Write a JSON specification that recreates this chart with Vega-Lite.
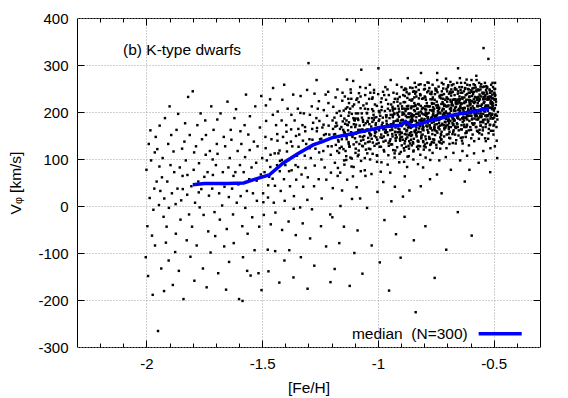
{
"$schema": "https://vega.github.io/schema/vega-lite/v6.json",
"autosize": "none",
"width": 463,
"height": 329,
"padding": {"left": 77, "top": 18, "right": 28, "bottom": 51},
"background": "white",
"config": {
  "view": {"stroke": "#000", "strokeWidth": 1},
  "axis": {"labelFont": "Liberation Sans", "titleFont": "Liberation Sans", "labelFontSize": 15, "titleFontSize": 15.5, "titleFontWeight": "normal", "labelColor": "#000", "titleColor": "#000", "tickColor": "#000", "tickWidth": 1}
},
"datasets": {
"med": [
{"feh":-1.80,"v":45},{"feh":-1.75,"v":48},{"feh":-1.70,"v":48},{"feh":-1.65,"v":48},{"feh":-1.58,"v":49},{"feh":-1.53,"v":57},{"feh":-1.47,"v":66},{"feh":-1.41,"v":91},{"feh":-1.35,"v":110},{"feh":-1.28,"v":130},{"feh":-1.24,"v":137},{"feh":-1.20,"v":145},{"feh":-1.15,"v":150},{"feh":-1.10,"v":155},{"feh":-1.035,"v":162},{"feh":-0.98,"v":168},{"feh":-0.94,"v":170},{"feh":-0.905,"v":172},{"feh":-0.88,"v":179},{"feh":-0.85,"v":170},{"feh":-0.81,"v":176},{"feh":-0.77,"v":183},{"feh":-0.70,"v":191},{"feh":-0.63,"v":198},{"feh":-0.58,"v":201},{"feh":-0.545,"v":206},{"feh":-0.52,"v":207}
],
"pts": [
{"feh":-2.000,"v":77},{"feh":-1.996,"v":-43},{"feh":-2.003,"v":-109},
{"feh":-1.990,"v":132},{"feh":-1.986,"v":17},{"feh":-1.993,"v":-149},
{"feh":-1.980,"v":97},{"feh":-1.976,"v":-63},{"feh":-1.983,"v":161},
{"feh":-1.970,"v":-8},{"feh":-1.966,"v":37},{"feh":-1.973,"v":-189},{"feh":-1.964,"v":114},
{"feh":-1.960,"v":147},{"feh":-1.956,"v":52},{"feh":-1.963,"v":-84},
{"feh":-1.950,"v":-266},{"feh":-1.946,"v":2},{"feh":-1.953,"v":121},{"feh":-1.944,"v":84},
{"feh":-1.940,"v":32},{"feh":-1.936,"v":-133},{"feh":-1.943,"v":171},
{"feh":-1.930,"v":102},{"feh":-1.926,"v":-23},{"feh":-1.933,"v":61},{"feh":-1.924,"v":-181},
{"feh":-1.920,"v":187},{"feh":-1.916,"v":-78},{"feh":-1.923,"v":16},
{"feh":-1.910,"v":52},{"feh":-1.906,"v":132},{"feh":-1.913,"v":-44},{"feh":-1.904,"v":-116},
{"feh":-1.900,"v":212},{"feh":-1.896,"v":87},{"feh":-1.903,"v":-4},
{"feh":-1.890,"v":27},{"feh":-1.886,"v":-168},{"feh":-1.893,"v":151},
{"feh":-1.880,"v":72},{"feh":-1.876,"v":-98},{"feh":-1.883,"v":116},{"feh":-1.874,"v":4},
{"feh":-1.870,"v":162},{"feh":-1.866,"v":37},{"feh":-1.873,"v":-59},
{"feh":-1.860,"v":-138},{"feh":-1.856,"v":82},{"feh":-1.863,"v":196},
{"feh":-1.850,"v":12},{"feh":-1.846,"v":122},{"feh":-1.853,"v":-29},{"feh":-1.844,"v":64},
{"feh":-1.840,"v":-198},{"feh":-1.836,"v":137},{"feh":-1.843,"v":36},
{"feh":-1.830,"v":97},{"feh":-1.826,"v":-73},{"feh":-1.833,"v":176},{"feh":-1.824,"v":24},
{"feh":-1.820,"v":232},{"feh":-1.816,"v":-18},{"feh":-1.823,"v":66},
{"feh":-1.810,"v":-108},{"feh":-1.806,"v":42},{"feh":-1.813,"v":151},
{"feh":-1.800,"v":244},{"feh":-1.796,"v":77},{"feh":-1.803,"v":-44},{"feh":-1.794,"v":114},
{"feh":-1.790,"v":7},{"feh":-1.786,"v":127},{"feh":-1.793,"v":-159},
{"feh":-1.780,"v":172},{"feh":-1.776,"v":52},{"feh":-1.783,"v":-84},{"feh":-1.774,"v":29},
{"feh":-1.770,"v":-3},{"feh":-1.766,"v":197},{"feh":-1.773,"v":91},
{"feh":-1.760,"v":142},{"feh":-1.756,"v":-133},{"feh":-1.763,"v":36},
{"feh":-1.750,"v":62},{"feh":-1.746,"v":182},{"feh":-1.753,"v":-19},{"feh":-1.744,"v":109},
{"feh":-1.740,"v":-173},{"feh":-1.736,"v":72},{"feh":-1.743,"v":151},
{"feh":-1.730,"v":22},{"feh":-1.726,"v":117},{"feh":-1.733,"v":-54},
{"feh":-1.720,"v":212},{"feh":-1.716,"v":37},{"feh":-1.723,"v":-99},{"feh":-1.714,"v":99},
{"feh":-1.710,"v":162},{"feh":-1.706,"v":-13},{"feh":-1.713,"v":66},
{"feh":-1.700,"v":87},{"feh":-1.696,"v":132},{"feh":-1.703,"v":-64},{"feh":-1.694,"v":184},
{"feh":-1.690,"v":-143},{"feh":-1.686,"v":27},{"feh":-1.693,"v":111},
{"feh":-1.680,"v":197},{"feh":-1.676,"v":47},{"feh":-1.683,"v":-29},
{"feh":-1.670,"v":72},{"feh":-1.666,"v":147},{"feh":-1.673,"v":1},{"feh":-1.664,"v":-86},
{"feh":-1.660,"v":127},{"feh":-1.656,"v":-178},{"feh":-1.663,"v":41},
{"feh":-1.650,"v":222},{"feh":-1.646,"v":82},{"feh":-1.653,"v":-49},{"feh":-1.644,"v":19},
{"feh":-1.640,"v":102},{"feh":-1.636,"v":162},{"feh":-1.643,"v":-119},
{"feh":-1.630,"v":37},{"feh":-1.626,"v":-18},{"feh":-1.633,"v":141},{"feh":-1.624,"v":64},
{"feh":-1.620,"v":187},{"feh":-1.616,"v":72},{"feh":-1.623,"v":-79},
{"feh":-1.610,"v":7},{"feh":-1.606,"v":117},{"feh":-1.613,"v":206},
{"feh":-1.600,"v":-198},{"feh":-1.596,"v":87},{"feh":-1.603,"v":46},{"feh":-1.594,"v":159},
{"feh":-1.590,"v":132},{"feh":-1.586,"v":-43},{"feh":-1.593,"v":21},
{"feh":-1.580,"v":72},{"feh":-1.576,"v":172},{"feh":-1.583,"v":-109},{"feh":-1.574,"v":104},{"feh":-1.585,"v":-202},
{"feh":-1.570,"v":237},{"feh":-1.566,"v":32},{"feh":-1.573,"v":-4},
{"feh":-1.560,"v":152},{"feh":-1.556,"v":57},{"feh":-1.563,"v":-59},{"feh":-1.554,"v":119},{"feh":-1.565,"v":-138},
{"feh":-1.550,"v":-148},{"feh":-1.546,"v":82},{"feh":-1.553,"v":191},
{"feh":-1.540,"v":27},{"feh":-1.536,"v":137},{"feh":-1.543,"v":-24},
{"feh":-1.530,"v":212},{"feh":-1.526,"v":92},{"feh":-1.533,"v":-94},{"feh":-1.524,"v":54},
{"feh":-1.520,"v":127},{"feh":-1.516,"v":-143},{"feh":-1.523,"v":11},
{"feh":-1.510,"v":167},{"feh":-1.506,"v":67},{"feh":-1.513,"v":-44},{"feh":-1.504,"v":234},
{"feh":-1.500,"v":102},{"feh":-1.496,"v":27},{"feh":-1.503,"v":-179},
{"feh":-1.490,"v":72},{"feh":-1.486,"v":147},{"feh":-1.493,"v":-19},{"feh":-1.484,"v":214},{"feh":-1.495,"v":8},
{"feh":-1.480,"v":97},{"feh":-1.476,"v":-93},{"feh":-1.483,"v":181},{"feh":-1.474,"v":44},{"feh":-1.485,"v":123},
{"feh":-1.470,"v":62},{"feh":-1.466,"v":227},{"feh":-1.473,"v":-139},{"feh":-1.464,"v":109},{"feh":-1.475,"v":18},
{"feh":-1.460,"v":142},{"feh":-1.456,"v":72},{"feh":-1.463,"v":-39},{"feh":-1.454,"v":194},{"feh":-1.465,"v":83},
{"feh":-1.450,"v":7},{"feh":-1.446,"v":112},{"feh":-1.453,"v":251},{"feh":-1.444,"v":-96},{"feh":-1.455,"v":58},
{"feh":-1.440,"v":172},{"feh":-1.436,"v":87},{"feh":-1.443,"v":-14},{"feh":-1.434,"v":139},{"feh":-1.445,"v":43},
{"feh":-1.430,"v":112},{"feh":-1.426,"v":-163},{"feh":-1.433,"v":201},{"feh":-1.424,"v":74},{"feh":-1.435,"v":153},
{"feh":-1.420,"v":32},{"feh":-1.416,"v":182},{"feh":-1.423,"v":96},{"feh":-1.414,"v":-51},{"feh":-1.425,"v":118},
{"feh":-1.410,"v":147},{"feh":-1.406,"v":57},{"feh":-1.413,"v":226},{"feh":-1.404,"v":-116},{"feh":-1.415,"v":98},
{"feh":-1.400,"v":87},{"feh":-1.396,"v":172},{"feh":-1.403,"v":11},{"feh":-1.394,"v":134},{"feh":-1.405,"v":258},
{"feh":-1.390,"v":207},{"feh":-1.386,"v":-33},{"feh":-1.393,"v":116},{"feh":-1.384,"v":74},{"feh":-1.395,"v":158},
{"feh":-1.380,"v":42},{"feh":-1.376,"v":137},{"feh":-1.383,"v":-94},{"feh":-1.374,"v":194},{"feh":-1.385,"v":98},
{"feh":-1.370,"v":127},{"feh":-1.366,"v":237},{"feh":-1.373,"v":76},{"feh":-1.364,"v":-6},{"feh":-1.375,"v":163},
{"feh":-1.360,"v":182},{"feh":-1.356,"v":87},{"feh":-1.363,"v":21},{"feh":-1.354,"v":149},{"feh":-1.365,"v":-152},
{"feh":-1.350,"v":107},{"feh":-1.346,"v":207},{"feh":-1.353,"v":56},{"feh":-1.344,"v":164},{"feh":-1.355,"v":-62},
{"feh":-1.340,"v":152},{"feh":-1.336,"v":-3},{"feh":-1.343,"v":126},{"feh":-1.334,"v":234},{"feh":-1.345,"v":83},
{"feh":-1.330,"v":67},{"feh":-1.326,"v":172},{"feh":-1.333,"v":-109},{"feh":-1.324,"v":139},{"feh":-1.335,"v":198},
{"feh":-1.320,"v":197},{"feh":-1.316,"v":107},{"feh":-1.323,"v":41},{"feh":-1.314,"v":159},{"feh":-1.325,"v":-37},
{"feh":-1.310,"v":132},{"feh":-1.306,"v":247},{"feh":-1.313,"v":81},{"feh":-1.304,"v":-176},{"feh":-1.315,"v":168},
{"feh":-1.300,"v":304},{"feh":-1.296,"v":142},{"feh":-1.303,"v":61},{"feh":-1.294,"v":194},{"feh":-1.305,"v":13},
{"feh":-1.290,"v":102},{"feh":-1.286,"v":212},{"feh":-1.293,"v":-69},{"feh":-1.284,"v":164},{"feh":-1.295,"v":123},
{"feh":-1.280,"v":177},{"feh":-1.276,"v":42},{"feh":-1.283,"v":141},{"feh":-1.274,"v":239},{"feh":-1.285,"v":-7},
{"feh":-1.270,"v":122},{"feh":-1.266,"v":187},{"feh":-1.273,"v":86},{"feh":-1.264,"v":159},{"feh":-1.275,"v":-127},
{"feh":-1.260,"v":207},{"feh":-1.256,"v":57},{"feh":-1.263,"v":166},{"feh":-1.254,"v":114},{"feh":-1.265,"v":268},
{"feh":-1.250,"v":142},{"feh":-1.246,"v":-43},{"feh":-1.253,"v":181},{"feh":-1.244,"v":99},{"feh":-1.255,"v":223},
{"feh":-1.240,"v":167},{"feh":-1.236,"v":117},{"feh":-1.243,"v":16},{"feh":-1.234,"v":204},{"feh":-1.245,"v":143},
{"feh":-1.230,"v":82},{"feh":-1.226,"v":237},{"feh":-1.233,"v":151},{"feh":-1.224,"v":-86},{"feh":-1.235,"v":173},
{"feh":-1.220,"v":192},{"feh":-1.216,"v":127},{"feh":-1.223,"v":56},{"feh":-1.214,"v":219},{"feh":-1.225,"v":153},
{"feh":-1.210,"v":152},{"feh":-1.206,"v":-18},{"feh":-1.213,"v":171},{"feh":-1.204,"v":109},{"feh":-1.215,"v":243},
{"feh":-1.200,"v":127},{"feh":-1.196,"v":182},{"feh":-1.203,"v":71},{"feh":-1.194,"v":164},{"feh":-1.205,"v":-162},
{"feh":-1.190,"v":152},{"feh":-1.186,"v":92},{"feh":-1.193,"v":211},{"feh":-1.184,"v":169},{"feh":-1.195,"v":38},{"feh":-1.188,"v":188},{"feh":-1.197,"v":-24},{"feh":-1.182,"v":130},
{"feh":-1.180,"v":177},{"feh":-1.176,"v":117},{"feh":-1.183,"v":231},{"feh":-1.174,"v":64},{"feh":-1.185,"v":153},{"feh":-1.178,"v":198},{"feh":-1.187,"v":-134},{"feh":-1.172,"v":140},
{"feh":-1.170,"v":137},{"feh":-1.166,"v":202},{"feh":-1.173,"v":81},{"feh":-1.164,"v":164},{"feh":-1.175,"v":248},{"feh":-1.168,"v":113},{"feh":-1.177,"v":171},{"feh":-1.162,"v":0},
{"feh":-1.160,"v":192},{"feh":-1.156,"v":142},{"feh":-1.163,"v":71},{"feh":-1.154,"v":224},{"feh":-1.165,"v":123},{"feh":-1.158,"v":168},{"feh":-1.167,"v":-79},{"feh":-1.152,"v":180},
{"feh":-1.150,"v":162},{"feh":-1.146,"v":97},{"feh":-1.153,"v":241},{"feh":-1.144,"v":154},{"feh":-1.155,"v":33},{"feh":-1.148,"v":203},{"feh":-1.157,"v":126},{"feh":-1.142,"v":175},
{"feh":-1.140,"v":117},{"feh":-1.136,"v":182},{"feh":-1.143,"v":156},{"feh":-1.134,"v":269},{"feh":-1.145,"v":88},{"feh":-1.138,"v":148},{"feh":-1.147,"v":-44},{"feh":-1.132,"v":210},
{"feh":-1.130,"v":172},{"feh":-1.126,"v":132},{"feh":-1.133,"v":56},{"feh":-1.124,"v":199},{"feh":-1.135,"v":148},{"feh":-1.128,"v":228},{"feh":-1.137,"v":106},{"feh":-1.122,"v":-170},
{"feh":-1.120,"v":207},{"feh":-1.116,"v":157},{"feh":-1.123,"v":126},{"feh":-1.114,"v":84},{"feh":-1.125,"v":178},{"feh":-1.118,"v":248},{"feh":-1.127,"v":136},{"feh":-1.112,"v":15},
{"feh":-1.110,"v":147},{"feh":-1.106,"v":187},{"feh":-1.113,"v":101},{"feh":-1.104,"v":174},{"feh":-1.115,"v":228},{"feh":-1.108,"v":63},{"feh":-1.117,"v":151},{"feh":-1.102,"v":-100},
{"feh":-1.100,"v":182},{"feh":-1.096,"v":122},{"feh":-1.103,"v":216},{"feh":-1.094,"v":154},{"feh":-1.105,"v":83},{"feh":-1.098,"v":168},{"feh":-1.107,"v":266},{"feh":-1.092,"v":40},
{"feh":-1.090,"v":157},{"feh":-1.086,"v":197},{"feh":-1.093,"v":136},{"feh":-1.084,"v":109},{"feh":-1.095,"v":173},{"feh":-1.088,"v":-52},{"feh":-1.097,"v":186},{"feh":-1.082,"v":240},
{"feh":-1.080,"v":132},{"feh":-1.076,"v":162},{"feh":-1.083,"v":221},{"feh":-1.074,"v":74},{"feh":-1.085,"v":183},{"feh":-1.078,"v":148},{"feh":-1.087,"v":106},{"feh":-1.072,"v":290},
{"feh":-1.070,"v":197},{"feh":-1.066,"v":147},{"feh":-1.073,"v":96},{"feh":-1.064,"v":179},{"feh":-1.075,"v":233},{"feh":-1.068,"v":128},{"feh":-1.077,"v":16},{"feh":-1.062,"v":160},
{"feh":-1.060,"v":172},{"feh":-1.056,"v":207},{"feh":-1.063,"v":141},{"feh":-1.054,"v":64},{"feh":-1.065,"v":183},{"feh":-1.058,"v":158},{"feh":-1.067,"v":-144},{"feh":-1.052,"v":120},
{"feh":-1.050,"v":162},{"feh":-1.046,"v":112},{"feh":-1.053,"v":251},{"feh":-1.044,"v":179},{"feh":-1.055,"v":133},{"feh":-1.048,"v":198},{"feh":-1.057,"v":76},{"feh":-1.042,"v":145},
{"feh":-1.040,"v":187},{"feh":-1.036,"v":137},{"feh":-1.043,"v":206},{"feh":-1.034,"v":99},{"feh":-1.045,"v":163},{"feh":-1.038,"v":228},{"feh":-1.047,"v":-4},{"feh":-1.032,"v":150},
{"feh":-1.030,"v":152},{"feh":-1.026,"v":187},{"feh":-1.033,"v":121},{"feh":-1.024,"v":179},{"feh":-1.035,"v":258},{"feh":-1.028,"v":68},{"feh":-1.037,"v":156},{"feh":-1.022,"v":135},
{"feh":-1.020,"v":202},{"feh":-1.016,"v":162},{"feh":-1.023,"v":111},{"feh":-1.014,"v":149},{"feh":-1.025,"v":228},{"feh":-1.018,"v":183},{"feh":-1.027,"v":-84},{"feh":-1.012,"v":155},
{"feh":-1.010,"v":172},{"feh":-1.006,"v":132},{"feh":-1.013,"v":216},{"feh":-1.004,"v":94},{"feh":-1.015,"v":188},{"feh":-1.008,"v":158},{"feh":-1.017,"v":241},{"feh":-1.002,"v":30},
{"feh":-1.000,"v":167},{"feh":-0.996,"v":202},{"feh":-1.003,"v":141},{"feh":-0.994,"v":184},{"feh":-1.005,"v":108},{"feh":-0.998,"v":293},{"feh":-1.007,"v":146},{"feh":-0.992,"v":-120},
{"feh":-0.990,"v":192},{"feh":-0.986,"v":152},{"feh":-0.993,"v":126},{"feh":-0.984,"v":229},{"feh":-0.995,"v":168},{"feh":-0.988,"v":73},{"feh":-0.997,"v":181},{"feh":-0.982,"v":145},
{"feh":-0.980,"v":177},{"feh":-0.976,"v":137},{"feh":-0.983,"v":211},{"feh":-0.974,"v":164},{"feh":-0.985,"v":93},{"feh":-0.978,"v":243},{"feh":-0.987,"v":126},{"feh":-0.972,"v":-30},
{"feh":-0.970,"v":202},{"feh":-0.966,"v":162},{"feh":-0.973,"v":116},{"feh":-0.964,"v":189},{"feh":-0.975,"v":148},{"feh":-0.968,"v":253},{"feh":-0.977,"v":51},{"feh":-0.962,"v":175},
{"feh":-0.960,"v":157},{"feh":-0.956,"v":217},{"feh":-0.963,"v":181},{"feh":-0.954,"v":134},{"feh":-0.965,"v":193},{"feh":-0.958,"v":88},{"feh":-0.967,"v":156},{"feh":-0.952,"v":-180},
{"feh":-0.950,"v":187},{"feh":-0.946,"v":142},{"feh":-0.953,"v":236},{"feh":-0.944,"v":174},{"feh":-0.955,"v":108},{"feh":-0.948,"v":203},{"feh":-0.957,"v":151},{"feh":-0.942,"v":10},
{"feh":-0.940,"v":167},{"feh":-0.936,"v":207},{"feh":-0.943,"v":131},{"feh":-0.934,"v":194},{"feh":-0.945,"v":268},{"feh":-0.938,"v":153},{"feh":-0.947,"v":71},{"feh":-0.932,"v":180},
{"feh":-0.930,"v":197},{"feh":-0.926,"v":157},{"feh":-0.933,"v":241},{"feh":-0.924,"v":144},{"feh":-0.935,"v":173},{"feh":-0.928,"v":103},{"feh":-0.937,"v":211},{"feh":-0.922,"v":-60},
{"feh":-0.920,"v":172},{"feh":-0.916,"v":222},{"feh":-0.923,"v":151},{"feh":-0.914,"v":194},{"feh":-0.925,"v":118},{"feh":-0.918,"v":258},{"feh":-0.927,"v":41},{"feh":-0.912,"v":165},
{"feh":-0.910,"v":207},{"feh":-0.906,"v":152},{"feh":-0.913,"v":181},{"feh":-0.904,"v":139},{"feh":-0.915,"v":228},{"feh":-0.908,"v":93},{"feh":-0.917,"v":171},{"feh":-0.902,"v":-110},
{"feh":-0.900,"v":182},{"feh":-0.896,"v":212},{"feh":-0.903,"v":146},{"feh":-0.894,"v":199},{"feh":-0.905,"v":158},{"feh":-0.898,"v":253},{"feh":-0.907,"v":111},{"feh":-0.892,"v":20},
{"feh":-0.890,"v":177},{"feh":-0.886,"v":207},{"feh":-0.893,"v":141},{"feh":-0.884,"v":234},{"feh":-0.895,"v":183},{"feh":-0.888,"v":123},{"feh":-0.897,"v":156},{"feh":-0.882,"v":250},{"feh":-0.891,"v":197},{"feh":-0.887,"v":94},{"feh":-0.894,"v":173},{"feh":-0.885,"v":-23},
{"feh":-0.880,"v":192},{"feh":-0.876,"v":152},{"feh":-0.883,"v":221},{"feh":-0.874,"v":174},{"feh":-0.885,"v":133},{"feh":-0.878,"v":248},{"feh":-0.887,"v":176},{"feh":-0.872,"v":105},{"feh":-0.881,"v":202},{"feh":-0.877,"v":159},{"feh":-0.884,"v":63},{"feh":-0.875,"v":212},
{"feh":-0.870,"v":167},{"feh":-0.866,"v":197},{"feh":-0.873,"v":146},{"feh":-0.864,"v":239},{"feh":-0.875,"v":178},{"feh":-0.868,"v":128},{"feh":-0.877,"v":206},{"feh":-0.862,"v":155},{"feh":-0.871,"v":272},{"feh":-0.867,"v":189},{"feh":-0.874,"v":83},{"feh":-0.865,"v":172},
{"feh":-0.860,"v":197},{"feh":-0.856,"v":157},{"feh":-0.863,"v":226},{"feh":-0.854,"v":179},{"feh":-0.865,"v":138},{"feh":-0.858,"v":208},{"feh":-0.867,"v":106},{"feh":-0.852,"v":185},{"feh":-0.861,"v":252},{"feh":-0.857,"v":149},{"feh":-0.864,"v":33},{"feh":-0.855,"v":212},
{"feh":-0.850,"v":182},{"feh":-0.846,"v":212},{"feh":-0.853,"v":151},{"feh":-0.844,"v":244},{"feh":-0.855,"v":168},{"feh":-0.848,"v":133},{"feh":-0.857,"v":191},{"feh":-0.842,"v":160},{"feh":-0.851,"v":227},{"feh":-0.847,"v":99},{"feh":-0.854,"v":188},{"feh":-0.845,"v":-73},
{"feh":-0.840,"v":202},{"feh":-0.836,"v":162},{"feh":-0.843,"v":231},{"feh":-0.834,"v":189},{"feh":-0.845,"v":143},{"feh":-0.838,"v":213},{"feh":-0.847,"v":116},{"feh":-0.832,"v":175},{"feh":-0.841,"v":262},{"feh":-0.837,"v":-226},{"feh":-0.844,"v":193},{"feh":-0.835,"v":152},
{"feh":-0.830,"v":177},{"feh":-0.826,"v":217},{"feh":-0.833,"v":156},{"feh":-0.824,"v":199},{"feh":-0.835,"v":243},{"feh":-0.828,"v":138},{"feh":-0.837,"v":181},{"feh":-0.822,"v":165},{"feh":-0.831,"v":207},{"feh":-0.827,"v":89},{"feh":-0.834,"v":233},{"feh":-0.825,"v":137},
{"feh":-0.820,"v":192},{"feh":-0.816,"v":157},{"feh":-0.823,"v":216},{"feh":-0.814,"v":179},{"feh":-0.825,"v":128},{"feh":-0.818,"v":238},{"feh":-0.827,"v":196},{"feh":-0.812,"v":150},{"feh":-0.821,"v":182},{"feh":-0.817,"v":109},{"feh":-0.824,"v":258},{"feh":-0.815,"v":42},
{"feh":-0.810,"v":207},{"feh":-0.806,"v":167},{"feh":-0.813,"v":146},{"feh":-0.804,"v":229},{"feh":-0.815,"v":183},{"feh":-0.808,"v":163},{"feh":-0.817,"v":236},{"feh":-0.802,"v":120},{"feh":-0.811,"v":197},{"feh":-0.807,"v":174},{"feh":-0.814,"v":283},{"feh":-0.805,"v":82},
{"feh":-0.800,"v":182},{"feh":-0.796,"v":212},{"feh":-0.803,"v":161},{"feh":-0.794,"v":199},{"feh":-0.805,"v":138},{"feh":-0.798,"v":233},{"feh":-0.807,"v":171},{"feh":-0.792,"v":205},{"feh":-0.801,"v":127},{"feh":-0.797,"v":249},{"feh":-0.804,"v":168},{"feh":-0.795,"v":-43},
{"feh":-0.790,"v":197},{"feh":-0.786,"v":162},{"feh":-0.793,"v":226},{"feh":-0.784,"v":184},{"feh":-0.795,"v":148},{"feh":-0.788,"v":213},{"feh":-0.797,"v":131},{"feh":-0.782,"v":245},{"feh":-0.791,"v":192},{"feh":-0.787,"v":169},{"feh":-0.794,"v":103},{"feh":-0.785,"v":212},
{"feh":-0.780,"v":212},{"feh":-0.776,"v":172},{"feh":-0.783,"v":156},{"feh":-0.774,"v":239},{"feh":-0.785,"v":188},{"feh":-0.778,"v":143},{"feh":-0.787,"v":196},{"feh":-0.772,"v":165},{"feh":-0.781,"v":262},{"feh":-0.777,"v":119},{"feh":-0.784,"v":188},{"feh":-0.775,"v":57},
{"feh":-0.770,"v":187},{"feh":-0.766,"v":217},{"feh":-0.773,"v":166},{"feh":-0.764,"v":204},{"feh":-0.775,"v":143},{"feh":-0.768,"v":243},{"feh":-0.777,"v":171},{"feh":-0.762,"v":210},{"feh":-0.771,"v":132},{"feh":-0.767,"v":189},{"feh":-0.774,"v":98},{"feh":-0.765,"v":227},
{"feh":-0.760,"v":202},{"feh":-0.756,"v":167},{"feh":-0.763,"v":231},{"feh":-0.754,"v":189},{"feh":-0.765,"v":153},{"feh":-0.758,"v":218},{"feh":-0.767,"v":136},{"feh":-0.752,"v":250},{"feh":-0.761,"v":197},{"feh":-0.757,"v":164},{"feh":-0.764,"v":113},{"feh":-0.755,"v":-153},
{"feh":-0.750,"v":192},{"feh":-0.746,"v":222},{"feh":-0.753,"v":161},{"feh":-0.744,"v":209},{"feh":-0.755,"v":173},{"feh":-0.748,"v":248},{"feh":-0.757,"v":141},{"feh":-0.742,"v":215},{"feh":-0.751,"v":182},{"feh":-0.747,"v":124},{"feh":-0.754,"v":238},{"feh":-0.745,"v":67},
{"feh":-0.740,"v":212},{"feh":-0.736,"v":177},{"feh":-0.743,"v":156},{"feh":-0.734,"v":234},{"feh":-0.745,"v":193},{"feh":-0.738,"v":168},{"feh":-0.747,"v":246},{"feh":-0.732,"v":135},{"feh":-0.741,"v":202},{"feh":-0.737,"v":184},{"feh":-0.744,"v":283},{"feh":-0.735,"v":97},
{"feh":-0.730,"v":197},{"feh":-0.726,"v":217},{"feh":-0.733,"v":171},{"feh":-0.724,"v":244},{"feh":-0.735,"v":183},{"feh":-0.728,"v":153},{"feh":-0.737,"v":206},{"feh":-0.722,"v":175},{"feh":-0.731,"v":122},{"feh":-0.727,"v":229},{"feh":-0.734,"v":163},{"feh":-0.725,"v":27},
{"feh":-0.720,"v":207},{"feh":-0.716,"v":172},{"feh":-0.723,"v":236},{"feh":-0.714,"v":194},{"feh":-0.725,"v":158},{"feh":-0.718,"v":228},{"feh":-0.727,"v":141},{"feh":-0.712,"v":215},{"feh":-0.721,"v":187},{"feh":-0.717,"v":259},{"feh":-0.724,"v":133},{"feh":-0.715,"v":197},
{"feh":-0.710,"v":192},{"feh":-0.706,"v":212},{"feh":-0.713,"v":166},{"feh":-0.704,"v":249},{"feh":-0.715,"v":198},{"feh":-0.708,"v":178},{"feh":-0.717,"v":136},{"feh":-0.702,"v":230},{"feh":-0.711,"v":187},{"feh":-0.707,"v":104},{"feh":-0.714,"v":213},{"feh":-0.705,"v":-93},
{"feh":-0.700,"v":212},{"feh":-0.696,"v":182},{"feh":-0.703,"v":231},{"feh":-0.694,"v":164},{"feh":-0.705,"v":198},{"feh":-0.698,"v":253},{"feh":-0.707,"v":171},{"feh":-0.692,"v":145},{"feh":-0.701,"v":222},{"feh":-0.697,"v":189},{"feh":-0.704,"v":123},{"feh":-0.695,"v":192},
{"feh":-0.690,"v":197},{"feh":-0.686,"v":222},{"feh":-0.693,"v":176},{"feh":-0.684,"v":209},{"feh":-0.695,"v":153},{"feh":-0.688,"v":243},{"feh":-0.697,"v":181},{"feh":-0.682,"v":215},{"feh":-0.691,"v":132},{"feh":-0.687,"v":264},{"feh":-0.694,"v":168},{"feh":-0.685,"v":77},
{"feh":-0.680,"v":217},{"feh":-0.676,"v":187},{"feh":-0.683,"v":241},{"feh":-0.674,"v":174},{"feh":-0.685,"v":203},{"feh":-0.678,"v":153},{"feh":-0.687,"v":226},{"feh":-0.672,"v":185},{"feh":-0.681,"v":257},{"feh":-0.677,"v":134},{"feh":-0.684,"v":203},{"feh":-0.675,"v":172},
{"feh":-0.670,"v":202},{"feh":-0.666,"v":227},{"feh":-0.673,"v":181},{"feh":-0.664,"v":219},{"feh":-0.675,"v":158},{"feh":-0.668,"v":248},{"feh":-0.677,"v":186},{"feh":-0.662,"v":140},{"feh":-0.671,"v":227},{"feh":-0.667,"v":209},{"feh":-0.674,"v":113},{"feh":-0.665,"v":167},
{"feh":-0.660,"v":222},{"feh":-0.656,"v":192},{"feh":-0.663,"v":166},{"feh":-0.654,"v":244},{"feh":-0.665,"v":203},{"feh":-0.658,"v":188},{"feh":-0.667,"v":251},{"feh":-0.652,"v":150},{"feh":-0.661,"v":217},{"feh":-0.657,"v":174},{"feh":-0.664,"v":133},{"feh":-0.655,"v":-13},
{"feh":-0.650,"v":207},{"feh":-0.646,"v":227},{"feh":-0.653,"v":186},{"feh":-0.644,"v":219},{"feh":-0.655,"v":168},{"feh":-0.648,"v":253},{"feh":-0.657,"v":191},{"feh":-0.642,"v":145},{"feh":-0.651,"v":227},{"feh":-0.647,"v":199},{"feh":-0.654,"v":293},{"feh":-0.645,"v":97},
{"feh":-0.640,"v":217},{"feh":-0.636,"v":187},{"feh":-0.643,"v":241},{"feh":-0.634,"v":179},{"feh":-0.645,"v":203},{"feh":-0.638,"v":163},{"feh":-0.647,"v":226},{"feh":-0.632,"v":195},{"feh":-0.641,"v":262},{"feh":-0.637,"v":139},{"feh":-0.644,"v":213},{"feh":-0.635,"v":117},
{"feh":-0.630,"v":202},{"feh":-0.626,"v":222},{"feh":-0.633,"v":186},{"feh":-0.624,"v":249},{"feh":-0.635,"v":208},{"feh":-0.628,"v":173},{"feh":-0.637,"v":231},{"feh":-0.622,"v":155},{"feh":-0.631,"v":197},{"feh":-0.627,"v":219},{"feh":-0.634,"v":133},{"feh":-0.625,"v":52},
{"feh":-0.620,"v":222},{"feh":-0.616,"v":192},{"feh":-0.623,"v":251},{"feh":-0.614,"v":184},{"feh":-0.625,"v":208},{"feh":-0.618,"v":168},{"feh":-0.627,"v":231},{"feh":-0.612,"v":200},{"feh":-0.621,"v":147},{"feh":-0.617,"v":269},{"feh":-0.624,"v":188},{"feh":-0.615,"v":107},
{"feh":-0.610,"v":207},{"feh":-0.606,"v":232},{"feh":-0.613,"v":191},{"feh":-0.604,"v":219},{"feh":-0.615,"v":173},{"feh":-0.608,"v":248},{"feh":-0.617,"v":156},{"feh":-0.602,"v":225},{"feh":-0.611,"v":202},{"feh":-0.607,"v":129},{"feh":-0.614,"v":258},{"feh":-0.605,"v":77},
{"feh":-0.600,"v":217},{"feh":-0.596,"v":192},{"feh":-0.603,"v":241},{"feh":-0.594,"v":184},{"feh":-0.605,"v":223},{"feh":-0.598,"v":208},{"feh":-0.607,"v":161},{"feh":-0.592,"v":250},{"feh":-0.601,"v":192},{"feh":-0.597,"v":144},{"feh":-0.604,"v":233},{"feh":-0.595,"v":-63},
{"feh":-0.590,"v":202},{"feh":-0.586,"v":227},{"feh":-0.593,"v":186},{"feh":-0.584,"v":219},{"feh":-0.595,"v":243},{"feh":-0.588,"v":173},{"feh":-0.597,"v":206},{"feh":-0.582,"v":195},{"feh":-0.591,"v":152},{"feh":-0.587,"v":259},{"feh":-0.594,"v":223},{"feh":-0.585,"v":112},
{"feh":-0.580,"v":222},{"feh":-0.576,"v":197},{"feh":-0.583,"v":176},{"feh":-0.574,"v":244},{"feh":-0.585,"v":208},{"feh":-0.578,"v":193},{"feh":-0.587,"v":251},{"feh":-0.572,"v":160},{"feh":-0.581,"v":232},{"feh":-0.577,"v":204},{"feh":-0.584,"v":138},{"feh":-0.575,"v":277},
{"feh":-0.570,"v":212},{"feh":-0.566,"v":232},{"feh":-0.573,"v":191},{"feh":-0.564,"v":224},{"feh":-0.575,"v":168},{"feh":-0.568,"v":248},{"feh":-0.577,"v":196},{"feh":-0.562,"v":155},{"feh":-0.571,"v":227},{"feh":-0.567,"v":184},{"feh":-0.574,"v":268},{"feh":-0.565,"v":92},
{"feh":-0.560,"v":227},{"feh":-0.556,"v":197},{"feh":-0.563,"v":246},{"feh":-0.554,"v":189},{"feh":-0.565,"v":213},{"feh":-0.558,"v":178},{"feh":-0.567,"v":231},{"feh":-0.552,"v":205},{"feh":-0.561,"v":162},{"feh":-0.557,"v":254},{"feh":-0.564,"v":143},{"feh":-0.555,"v":192},
{"feh":-0.550,"v":207},{"feh":-0.546,"v":227},{"feh":-0.553,"v":191},{"feh":-0.544,"v":336},{"feh":-0.555,"v":213},{"feh":-0.548,"v":253},{"feh":-0.557,"v":171},{"feh":-0.542,"v":220},{"feh":-0.551,"v":152},{"feh":-0.547,"v":239},{"feh":-0.554,"v":203},{"feh":-0.545,"v":117},
{"feh":-0.540,"v":222},{"feh":-0.536,"v":192},{"feh":-0.543,"v":241},{"feh":-0.534,"v":214},{"feh":-0.545,"v":178},{"feh":-0.538,"v":233},{"feh":-0.547,"v":161},{"feh":-0.532,"v":255},{"feh":-0.541,"v":202},{"feh":-0.537,"v":144},{"feh":-0.544,"v":228},{"feh":-0.535,"v":97},
{"feh":-0.530,"v":212},{"feh":-0.526,"v":232},{"feh":-0.533,"v":191},{"feh":-0.524,"v":229},{"feh":-0.535,"v":168},{"feh":-0.528,"v":253},{"feh":-0.537,"v":201},{"feh":-0.522,"v":155},{"feh":-0.531,"v":242},{"feh":-0.527,"v":184},{"feh":-0.534,"v":138},{"feh":-0.525,"v":212},
{"feh":-0.520,"v":227},{"feh":-0.516,"v":197},{"feh":-0.523,"v":313},{"feh":-0.514,"v":219},{"feh":-0.525,"v":178},{"feh":-0.518,"v":248},{"feh":-0.527,"v":191},{"feh":-0.512,"v":160},{"feh":-0.521,"v":232},{"feh":-0.517,"v":209},{"feh":-0.524,"v":143},{"feh":-0.515,"v":72},
{"feh":-0.510,"v":217},{"feh":-0.506,"v":237},{"feh":-0.513,"v":191},{"feh":-0.504,"v":229},{"feh":-0.515,"v":173},{"feh":-0.508,"v":208},{"feh":-0.517,"v":246},{"feh":-0.502,"v":160},{"feh":-0.511,"v":232},{"feh":-0.507,"v":194},{"feh":-0.514,"v":123},{"feh":-0.505,"v":262},
{"feh":-0.500,"v":207},{"feh":-0.496,"v":227},{"feh":-0.503,"v":186},{"feh":-0.494,"v":249},{"feh":-0.505,"v":213},{"feh":-0.498,"v":173},{"feh":-0.507,"v":221},{"feh":-0.492,"v":195},{"feh":-0.501,"v":152},{"feh":-0.497,"v":239},{"feh":-0.504,"v":213},{"feh":-0.495,"v":127},
{"feh":-0.490,"v":222},{"feh":-0.486,"v":192},{"feh":-0.493,"v":236},{"feh":-0.484,"v":184},{"feh":-0.495,"v":208},{"feh":-0.488,"v":168},{"feh":-0.497,"v":241},{"feh":-0.482,"v":200},{"feh":-0.491,"v":227},{"feh":-0.487,"v":139},{"feh":-0.494,"v":193},{"feh":-0.485,"v":102},
{"feh":-1.145,"v":186},{"feh":-1.149,"v":121},{"feh":-1.143,"v":233},{"feh":-1.147,"v":158},
{"feh":-1.135,"v":142},{"feh":-1.139,"v":207},{"feh":-1.133,"v":173},{"feh":-1.137,"v":98},
{"feh":-1.125,"v":219},{"feh":-1.129,"v":161},{"feh":-1.123,"v":127},{"feh":-1.127,"v":192},
{"feh":-1.115,"v":168},{"feh":-1.119,"v":103},{"feh":-1.113,"v":196},{"feh":-1.117,"v":241},
{"feh":-1.105,"v":131},{"feh":-1.109,"v":212},{"feh":-1.103,"v":183},{"feh":-1.107,"v":152},
{"feh":-1.095,"v":197},{"feh":-1.099,"v":144},{"feh":-1.093,"v":226},{"feh":-1.097,"v":113},
{"feh":-1.085,"v":162},{"feh":-1.089,"v":229},{"feh":-1.083,"v":118},{"feh":-1.087,"v":186},
{"feh":-1.075,"v":208},{"feh":-1.079,"v":171},{"feh":-1.073,"v":139},{"feh":-1.077,"v":253},
{"feh":-1.065,"v":127},{"feh":-1.069,"v":188},{"feh":-1.063,"v":214},{"feh":-1.067,"v":163},
{"feh":-1.055,"v":236},{"feh":-1.059,"v":149},{"feh":-1.053,"v":176},{"feh":-1.057,"v":102},
{"feh":-1.045,"v":181},{"feh":-1.049,"v":218},{"feh":-1.043,"v":136},{"feh":-1.047,"v":197},
{"feh":-1.035,"v":153},{"feh":-1.039,"v":122},{"feh":-1.033,"v":241},{"feh":-1.037,"v":174},
{"feh":-1.025,"v":206},{"feh":-1.029,"v":169},{"feh":-1.023,"v":231},{"feh":-1.027,"v":143},
{"feh":-1.015,"v":128},{"feh":-1.019,"v":194},{"feh":-1.013,"v":158},{"feh":-1.017,"v":247},
{"feh":-1.005,"v":213},{"feh":-1.009,"v":176},{"feh":-1.003,"v":107},{"feh":-1.007,"v":189},
{"feh":-0.995,"v":161},{"feh":-0.999,"v":238},{"feh":-0.993,"v":199},{"feh":-0.997,"v":134},
{"feh":-0.985,"v":204},{"feh":-0.989,"v":146},{"feh":-0.983,"v":172},{"feh":-0.987,"v":221},
{"feh":-0.975,"v":119},{"feh":-0.979,"v":188},{"feh":-0.973,"v":236},{"feh":-0.977,"v":163},
{"feh":-0.965,"v":226},{"feh":-0.969,"v":157},{"feh":-0.963,"v":193},{"feh":-0.967,"v":139},
{"feh":-0.955,"v":172},{"feh":-0.959,"v":248},{"feh":-0.953,"v":128},{"feh":-0.957,"v":207},
{"feh":-0.945,"v":194},{"feh":-0.949,"v":138},{"feh":-0.943,"v":216},{"feh":-0.947,"v":161},
{"feh":-0.935,"v":203},{"feh":-0.939,"v":131},{"feh":-0.933,"v":176},{"feh":-0.937,"v":148},{"feh":-0.931,"v":221},{"feh":-0.938,"v":162},{"feh":-0.934,"v":119},{"feh":-0.936,"v":189},
{"feh":-0.925,"v":158},{"feh":-0.929,"v":196},{"feh":-0.923,"v":139},{"feh":-0.927,"v":228},{"feh":-0.921,"v":181},{"feh":-0.928,"v":112},{"feh":-0.924,"v":167},{"feh":-0.926,"v":207},
{"feh":-0.915,"v":184},{"feh":-0.919,"v":146},{"feh":-0.913,"v":213},{"feh":-0.917,"v":125},{"feh":-0.911,"v":171},{"feh":-0.918,"v":239},{"feh":-0.914,"v":157},{"feh":-0.916,"v":198},
{"feh":-0.905,"v":142},{"feh":-0.909,"v":190},{"feh":-0.903,"v":218},{"feh":-0.907,"v":163},{"feh":-0.901,"v":115},{"feh":-0.908,"v":201},{"feh":-0.904,"v":176},{"feh":-0.906,"v":232},
{"feh":-0.895,"v":207},{"feh":-0.899,"v":155},{"feh":-0.893,"v":183},{"feh":-0.897,"v":129},{"feh":-0.891,"v":236},{"feh":-0.898,"v":170},{"feh":-0.894,"v":194},{"feh":-0.896,"v":147},
{"feh":-0.885,"v":164},{"feh":-0.889,"v":221},{"feh":-0.883,"v":138},{"feh":-0.887,"v":196},{"feh":-0.881,"v":181},{"feh":-0.888,"v":247},{"feh":-0.884,"v":153},{"feh":-0.886,"v":118},
{"feh":-0.875,"v":189},{"feh":-0.879,"v":143},{"feh":-0.873,"v":230},{"feh":-0.877,"v":172},{"feh":-0.871,"v":207},{"feh":-0.878,"v":126},{"feh":-0.874,"v":161},{"feh":-0.876,"v":242},
{"feh":-0.865,"v":151},{"feh":-0.869,"v":213},{"feh":-0.863,"v":179},{"feh":-0.867,"v":238},{"feh":-0.861,"v":133},{"feh":-0.868,"v":196},{"feh":-0.864,"v":168},{"feh":-0.866,"v":122},
{"feh":-0.855,"v":224},{"feh":-0.859,"v":166},{"feh":-0.853,"v":195},{"feh":-0.857,"v":141},{"feh":-0.851,"v":251},{"feh":-0.858,"v":183},{"feh":-0.854,"v":129},{"feh":-0.856,"v":209},
{"feh":-0.845,"v":172},{"feh":-0.849,"v":136},{"feh":-0.843,"v":219},{"feh":-0.847,"v":191},{"feh":-0.841,"v":157},{"feh":-0.848,"v":243},{"feh":-0.844,"v":204},{"feh":-0.846,"v":118},
{"feh":-0.835,"v":196},{"feh":-0.839,"v":239},{"feh":-0.833,"v":148},{"feh":-0.837,"v":181},{"feh":-0.831,"v":126},{"feh":-0.838,"v":215},{"feh":-0.834,"v":167},{"feh":-0.836,"v":253},
{"feh":-0.825,"v":158},{"feh":-0.829,"v":207},{"feh":-0.823,"v":229},{"feh":-0.827,"v":139},{"feh":-0.821,"v":192},{"feh":-0.828,"v":176},{"feh":-0.824,"v":247},{"feh":-0.826,"v":121},
{"feh":-0.815,"v":213},{"feh":-0.819,"v":170},{"feh":-0.813,"v":144},{"feh":-0.817,"v":236},{"feh":-0.811,"v":186},{"feh":-0.818,"v":127},{"feh":-0.814,"v":201},{"feh":-0.816,"v":259},
{"feh":-0.805,"v":167},{"feh":-0.809,"v":228},{"feh":-0.803,"v":195},{"feh":-0.807,"v":152},{"feh":-0.801,"v":248},{"feh":-0.808,"v":181},{"feh":-0.804,"v":136},{"feh":-0.806,"v":209},
{"feh":-0.795,"v":231},{"feh":-0.799,"v":185},{"feh":-0.793,"v":142},{"feh":-0.797,"v":206},{"feh":-0.791,"v":171},{"feh":-0.798,"v":257},{"feh":-0.794,"v":125},{"feh":-0.796,"v":194},
{"feh":-0.785,"v":176},{"feh":-0.789,"v":219},{"feh":-0.783,"v":157},{"feh":-0.787,"v":242},{"feh":-0.781,"v":198},{"feh":-0.788,"v":134},{"feh":-0.784,"v":188},{"feh":-0.786,"v":263},
{"feh":-0.775,"v":204},{"feh":-0.779,"v":147},{"feh":-0.773,"v":227},{"feh":-0.777,"v":183},{"feh":-0.771,"v":166},{"feh":-0.778,"v":251},{"feh":-0.774,"v":130},{"feh":-0.776,"v":212},
{"feh":-0.765,"v":161},{"feh":-0.769,"v":238},{"feh":-0.763,"v":193},{"feh":-0.767,"v":219},{"feh":-0.761,"v":142},{"feh":-0.768,"v":177},{"feh":-0.764,"v":258},{"feh":-0.766,"v":203},
{"feh":-0.755,"v":226},{"feh":-0.759,"v":179},{"feh":-0.753,"v":151},{"feh":-0.757,"v":207},{"feh":-0.751,"v":246},{"feh":-0.758,"v":135},{"feh":-0.754,"v":192},{"feh":-0.756,"v":168},
{"feh":-0.745,"v":183},{"feh":-0.749,"v":214},{"feh":-0.743,"v":242},{"feh":-0.747,"v":159},{"feh":-0.741,"v":197},{"feh":-0.748,"v":130},{"feh":-0.744,"v":268},{"feh":-0.746,"v":174},
{"feh":-0.735,"v":209},{"feh":-0.739,"v":166},{"feh":-0.733,"v":231},{"feh":-0.737,"v":187},{"feh":-0.731,"v":146},{"feh":-0.738,"v":254},{"feh":-0.734,"v":199},{"feh":-0.736,"v":137},
{"feh":-0.725,"v":172},{"feh":-0.729,"v":236},{"feh":-0.723,"v":203},{"feh":-0.727,"v":151},{"feh":-0.721,"v":221},{"feh":-0.728,"v":186},{"feh":-0.724,"v":262},{"feh":-0.726,"v":142},
{"feh":-0.715,"v":238},{"feh":-0.719,"v":194},{"feh":-0.713,"v":163},{"feh":-0.717,"v":217},{"feh":-0.711,"v":179},{"feh":-0.718,"v":250},{"feh":-0.714,"v":148},{"feh":-0.716,"v":206},
{"feh":-0.705,"v":185},{"feh":-0.709,"v":226},{"feh":-0.703,"v":152},{"feh":-0.707,"v":201},{"feh":-0.701,"v":244},{"feh":-0.708,"v":167},{"feh":-0.704,"v":213},{"feh":-0.706,"v":271},
{"feh":-0.695,"v":214},{"feh":-0.699,"v":172},{"feh":-0.693,"v":239},{"feh":-0.697,"v":196},{"feh":-0.691,"v":158},{"feh":-0.698,"v":228},{"feh":-0.694,"v":184},{"feh":-0.696,"v":257},
{"feh":-0.685,"v":168},{"feh":-0.689,"v":207},{"feh":-0.683,"v":248},{"feh":-0.687,"v":181},{"feh":-0.681,"v":221},{"feh":-0.688,"v":144},{"feh":-0.684,"v":235},{"feh":-0.686,"v":193},
{"feh":-0.675,"v":226},{"feh":-0.679,"v":189},{"feh":-0.673,"v":161},{"feh":-0.677,"v":243},{"feh":-0.671,"v":204},{"feh":-0.678,"v":176},{"feh":-0.674,"v":259},{"feh":-0.676,"v":214},
{"feh":-0.665,"v":193},{"feh":-0.669,"v":236},{"feh":-0.663,"v":211},{"feh":-0.667,"v":152},{"feh":-0.661,"v":248},{"feh":-0.668,"v":182},{"feh":-0.664,"v":223},{"feh":-0.666,"v":169},
{"feh":-0.655,"v":239},{"feh":-0.659,"v":176},{"feh":-0.653,"v":204},{"feh":-0.657,"v":226},{"feh":-0.651,"v":161},{"feh":-0.658,"v":262},{"feh":-0.654,"v":191},{"feh":-0.656,"v":218},
{"feh":-0.645,"v":184},{"feh":-0.649,"v":221},{"feh":-0.643,"v":247},{"feh":-0.647,"v":197},{"feh":-0.641,"v":163},{"feh":-0.648,"v":233},{"feh":-0.644,"v":209},{"feh":-0.646,"v":272},
{"feh":-0.635,"v":228},{"feh":-0.639,"v":172},{"feh":-0.633,"v":206},{"feh":-0.637,"v":253},{"feh":-0.631,"v":189},{"feh":-0.638,"v":218},{"feh":-0.634,"v":146},{"feh":-0.636,"v":241},
{"feh":-0.625,"v":196},{"feh":-0.629,"v":244},{"feh":-0.623,"v":221},{"feh":-0.627,"v":168},{"feh":-0.621,"v":236},{"feh":-0.628,"v":182},{"feh":-0.624,"v":262},{"feh":-0.626,"v":209},
{"feh":-0.615,"v":238},{"feh":-0.619,"v":187},{"feh":-0.613,"v":213},{"feh":-0.617,"v":159},{"feh":-0.611,"v":249},{"feh":-0.618,"v":226},{"feh":-0.614,"v":194},{"feh":-0.616,"v":171},
{"feh":-0.605,"v":181},{"feh":-0.609,"v":226},{"feh":-0.603,"v":257},{"feh":-0.607,"v":203},{"feh":-0.601,"v":168},{"feh":-0.608,"v":241},{"feh":-0.604,"v":214},{"feh":-0.606,"v":192},
{"feh":-0.595,"v":223},{"feh":-0.599,"v":198},{"feh":-0.593,"v":176},{"feh":-0.597,"v":246},{"feh":-0.591,"v":212},{"feh":-0.598,"v":162},{"feh":-0.594,"v":234},{"feh":-0.596,"v":268},
{"feh":-0.585,"v":207},{"feh":-0.589,"v":238},{"feh":-0.583,"v":186},{"feh":-0.587,"v":221},{"feh":-0.581,"v":257},{"feh":-0.588,"v":174},{"feh":-0.584,"v":199},{"feh":-0.586,"v":243},
{"feh":-0.575,"v":246},{"feh":-0.579,"v":191},{"feh":-0.573,"v":226},{"feh":-0.577,"v":168},{"feh":-0.571,"v":213},{"feh":-0.578,"v":252},{"feh":-0.574,"v":184},{"feh":-0.576,"v":231},
{"feh":-0.565,"v":188},{"feh":-0.569,"v":219},{"feh":-0.563,"v":262},{"feh":-0.567,"v":204},{"feh":-0.561,"v":237},{"feh":-0.568,"v":158},{"feh":-0.564,"v":226},{"feh":-0.566,"v":197},
{"feh":-0.555,"v":233},{"feh":-0.559,"v":203},{"feh":-0.553,"v":179},{"feh":-0.557,"v":248},{"feh":-0.551,"v":216},{"feh":-0.558,"v":192},{"feh":-0.554,"v":259},{"feh":-0.556,"v":171},
{"feh":-0.545,"v":196},{"feh":-0.549,"v":241},{"feh":-0.543,"v":219},{"feh":-0.547,"v":167},{"feh":-0.541,"v":254},{"feh":-0.548,"v":208},{"feh":-0.544,"v":232},{"feh":-0.546,"v":183},
{"feh":-0.535,"v":228},{"feh":-0.539,"v":184},{"feh":-0.533,"v":247},{"feh":-0.537,"v":211},{"feh":-0.531,"v":193},{"feh":-0.538,"v":262},{"feh":-0.534,"v":174},{"feh":-0.536,"v":236},
{"feh":-0.525,"v":202},{"feh":-0.529,"v":251},{"feh":-0.523,"v":181},{"feh":-0.527,"v":226},{"feh":-0.521,"v":164},{"feh":-0.528,"v":239},{"feh":-0.524,"v":214},{"feh":-0.526,"v":193},
{"feh":-0.515,"v":241},{"feh":-0.519,"v":196},{"feh":-0.513,"v":224},{"feh":-0.517,"v":172},{"feh":-0.511,"v":258},{"feh":-0.518,"v":209},{"feh":-0.514,"v":186},{"feh":-0.516,"v":233},
{"feh":-0.505,"v":187},{"feh":-0.509,"v":229},{"feh":-0.503,"v":253},{"feh":-0.507,"v":206},{"feh":-0.501,"v":171},{"feh":-0.508,"v":244},{"feh":-0.504,"v":218},{"feh":-0.506,"v":196},
{"feh":-0.495,"v":234},{"feh":-0.499,"v":203},{"feh":-0.493,"v":179},{"feh":-0.497,"v":249},{"feh":-0.491,"v":215},{"feh":-0.498,"v":188},{"feh":-0.494,"v":262},{"feh":-0.496,"v":226}
]
},
"resolve": {"axis": {"x": "independent", "y": "independent"}},
"layer": [
{
  "data": {"name": "pts"},
  "mark": {"type": "point", "shape": "square", "filled": true, "size": 6, "color": "#000", "opacity": 1},
  "encoding": {
    "x": {"field": "feh", "type": "quantitative", "scale": {"domain": [-2.3, -0.3], "nice": false, "zero": false},
      "axis": {"orient": "bottom", "values": [-2, -1.5, -1, -0.5], "labelExpr": "toString(datum.value)", "ticks": false, "domain": false, "labelPadding": 9, "grid": true, "gridDash": [1, 2], "gridColor": "#a0a0a0", "gridOpacity": 1, "title": "[Fe/H]", "titlePadding": 9, "labelFlush": false}},
    "y": {"field": "v", "type": "quantitative", "scale": {"domain": [-300, 400], "nice": false, "zero": false},
      "axis": {"orient": "left", "values": [-300, -200, -100, 0, 100, 200, 300, 400], "labelExpr": "toString(datum.value)", "ticks": false, "domain": false, "labelPadding": 9, "grid": true, "gridDash": [1, 2], "gridColor": "#a0a0a0", "gridOpacity": 1, "title": "Vᵩ [km/s]", "titlePadding": 14, "labelFlush": false}}
  }
},
{
  "data": {"name": "med"},
  "mark": {"type": "line", "color": "#0000ff", "strokeWidth": 3.5},
  "encoding": {
    "x": {"field": "feh", "type": "quantitative", "axis": {"orient": "bottom", "values": [-2.2, -2.1, -1.9, -1.8, -1.7, -1.6, -1.4, -1.3, -1.2, -1.1, -0.9, -0.8, -0.7, -0.6, -0.4], "tickSize": -4, "labels": false, "domain": false, "grid": false, "title": null}},
    "y": {"field": "v", "type": "quantitative", "axis": {"orient": "left", "values": [-200, -100, 0, 100, 200, 300], "tickSize": -7, "labels": false, "domain": false, "grid": false, "title": null}}
  }
},
{
  "data": {"values": [{"feh": -2.101, "v": 321, "label": "(b) K-type dwarfs"}]},
  "mark": {"type": "text", "align": "left", "baseline": "alphabetic", "font": "Liberation Sans", "fontSize": 15.5, "color": "#000"},
  "encoding": {
    "x": {"field": "feh", "type": "quantitative", "axis": {"orient": "top", "values": [-2, -1.5, -1, -0.5], "tickSize": -7, "labels": false, "domain": false, "grid": false, "title": null}},
    "y": {"field": "v", "type": "quantitative", "axis": {"orient": "right", "values": [-200, -100, 0, 100, 200, 300], "tickSize": -7, "labels": false, "domain": false, "grid": false, "title": null}},
    "text": {"field": "label"}
  }
},
{
  "data": {"values": [{"feh": -0.612, "v": -283, "label": "median\u00a0\u00a0(N=300)"}]},
  "mark": {"type": "text", "align": "right", "baseline": "alphabetic", "font": "Liberation Sans", "fontSize": 15.5, "color": "#000"},
  "encoding": {
    "x": {"field": "feh", "type": "quantitative", "axis": {"orient": "top", "values": [-2.2, -2.1, -1.9, -1.8, -1.7, -1.6, -1.4, -1.3, -1.2, -1.1, -0.9, -0.8, -0.7, -0.6, -0.4], "tickSize": -4, "labels": false, "domain": false, "grid": false, "title": null}},
    "y": {"field": "v", "type": "quantitative", "axis": null},
    "text": {"field": "label"}
  }
},
{
  "data": {"values": [{"x1": -0.565, "x2": -0.379, "v": -272}]},
  "mark": {"type": "rule", "color": "#0000ff", "strokeWidth": 3.5},
  "encoding": {
    "x": {"field": "x1", "type": "quantitative", "axis": {"orient": "bottom", "values": [-2, -1.5, -1, -0.5], "tickSize": -7, "labels": false, "domain": false, "grid": false, "title": null}},
    "x2": {"field": "x2"},
    "y": {"field": "v", "type": "quantitative", "axis": null}
  }
}
]
}
